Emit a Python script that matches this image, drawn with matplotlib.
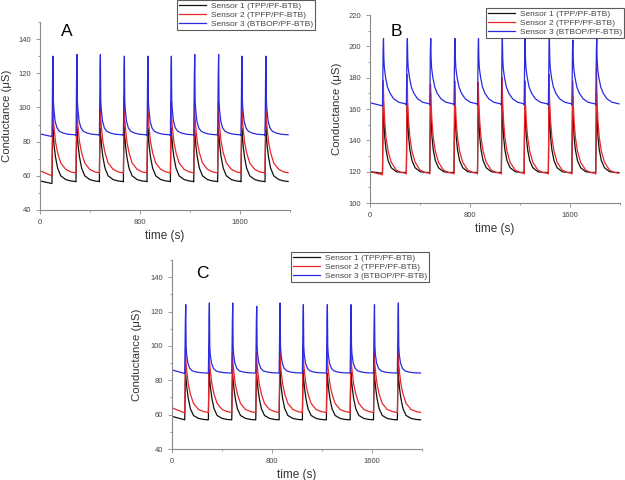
import matplotlib
matplotlib.use("Agg")
import matplotlib.pyplot as plt
from matplotlib.ticker import MultipleLocator

plt.rcParams["font.family"] = ["Liberation Sans", "DejaVu Sans"]

LABELS = ["Sensor 1 (TPP/PF-BTB)", "Sensor 2 (TPFP/PF-BTB)", "Sensor 3 (BTBOP/PF-BTB)"]
COLORS = ["#111111", "#e8262a", "#2a2ae0"]

# pulse onsets (s)
onsets_A = [96, 288, 475, 667, 856, 1043, 1230, 1421, 1608, 1800]
onsets_B = [100, 291, 478, 672, 860, 1051, 1233, 1427, 1615, 1806]
onsets_C = [102, 291, 478, 670, 857, 1043, 1235, 1425, 1612, 1803]

# typical cycle shape: time after onset (s)
fast_off = [0, 2, 5, 8, 11, 15, 25, 40, 60, 90, 130, 185]   # sensor 3 (spike at index 3)
slow_off = [0, 2, 6, 10, 18, 28, 45, 70, 110, 150, 185]     # sensors 1, 2 (peak at index 2)

# panel A
A_s1_start, A_s2_start, A_s3_start = [57, 55.5], [63, 60], [84.5, 83]
A_s1_cycle = [56.5, 70, 89, 84, 77, 71, 64.5, 60, 57.8, 57, 56.7]
A_s2_cycle = [61.5, 75, 102, 94, 87, 80, 73.5, 67.5, 63.8, 62.3, 61.8]
A_s3_cycle = [83.5, 95, 120, 130, 104, 99, 92, 88, 86, 85, 84.3, 84]
A_s1_peak = [90, 89, 88, 89, 88, 88, 87, 88, 88, 89]
A_s2_peak = [102, 103, 101, 106, 103, 103, 102, 103, 105, 102]
A_s3_peak = [130, 131, 131, 130, 130, 130, 131, 131, 130, 130]

# panel B
B_s1_start, B_s2_start, B_s3_start = [120, 119], [120, 118], [164, 162]
B_s1_cycle = [119.5, 135, 168, 155, 142, 134, 127, 122.5, 120, 119.5, 119.5]
B_s2_cycle = [118.5, 140, 178, 165, 152, 142, 133, 126, 121, 119.5, 119]
B_s3_cycle = [162.5, 175, 198, 205, 192, 186, 180, 174, 170, 166.5, 164.3, 163.3]
B_s1_peak = [170, 171, 170, 168, 167, 168, 167, 167, 168, 170]
B_s2_peak = [178, 182, 176, 178, 177, 180, 178, 182, 178, 186]
B_s3_peak = [205, 205, 205, 205, 205, 205, 205, 205, 204, 205]

# panel C
C_s1_start, C_s2_start, C_s3_start = [59, 57], [64, 61], [86, 84]
C_s1_cycle = [57, 68, 86, 81, 75, 69.5, 63.5, 59.5, 57.8, 57.2, 57]
C_s2_cycle = [61, 72, 97, 90, 84, 78, 72, 66.5, 63, 61.8, 61.3]
C_s3_cycle = [84.3, 95, 115, 124, 100, 95, 90, 87, 85.5, 84.8, 84.4, 84.2]
C_s1_peak = [86, 88, 86, 85, 86, 86, 84, 85, 87, 87]
C_s2_peak = [98, 99, 96, 96, 99, 99, 97, 97, 97, 97]
C_s3_peak = [124, 125, 125, 123, 125, 124, 124, 124, 124, 125]


def trace(onsets, start, offsets, cycle, peaks, peak_idx):
    t = [0, onsets[0] - 1]
    v = list(start)
    for t0, pk in zip(onsets, peaks):
        vals = list(cycle)
        vals[peak_idx] = pk
        t += [t0 + o for o in offsets]
        v += vals
    return t, v


def panel(rect, letter, letter_xy, onsets, data, ylim, legend_anchor, ylab_x):
    ax = fig.add_axes(rect)
    handles = []
    for (start, off, cyc, pks, idx), col, lab in zip(data, COLORS, LABELS):
        t, v = trace(onsets, start, off, cyc, pks, idx)
        h, = ax.plot(t, v, color=col, lw=0.9, label=lab)
        handles.append(h)
    ax.set_xlim(0, 2000)
    ax.set_ylim(*ylim)
    for s in ["top", "right"]:
        ax.spines[s].set_visible(False)
    for s in ["left", "bottom"]:
        ax.spines[s].set_color("#8a8a8a")
        ax.spines[s].set_linewidth(0.8)
    ax.xaxis.set_major_locator(MultipleLocator(800))
    ax.xaxis.set_minor_locator(MultipleLocator(400))
    ax.yaxis.set_major_locator(MultipleLocator(20))
    ax.yaxis.set_minor_locator(MultipleLocator(10))
    ax.tick_params(which="both", direction="out", colors="#8a8a8a", labelcolor="#444444",
                   labelsize=5.5, width=0.6)
    ax.tick_params(which="major", length=3)
    ax.tick_params(which="minor", length=1.5)
    ax.set_xlabel("time (s)", fontsize=8.5, color="#333333", labelpad=3)
    ax.set_ylabel("Conductance (μS)", fontsize=8.2, color="#333333", va="center")
    ax.yaxis.set_label_coords(ylab_x, 0.5)
    fig.text(letter_xy[0], letter_xy[1], letter, fontsize=12.5, ha="center", va="center")
    leg = ax.legend(handles=handles, loc="upper right", bbox_to_anchor=legend_anchor,
                    bbox_transform=fig.transFigure, fontsize=6, frameon=True, fancybox=False,
                    borderpad=0.25, labelspacing=0.15, handlelength=3.2, handletextpad=0.6,
                    borderaxespad=0)
    leg.get_frame().set_edgecolor("#333333")
    leg.get_frame().set_linewidth(0.8)
    for txt in leg.get_texts():
        txt.set_color("#444444")
    return ax


fig = plt.figure(figsize=(6.25, 4.8), dpi=100)

panel([40 / 625, 270 / 480, 250 / 625, 188 / 480], "A", (67 / 625, 1 - 32 / 480), onsets_A,
      [(A_s1_start, slow_off, A_s1_cycle, A_s1_peak, 2),
       (A_s2_start, slow_off, A_s2_cycle, A_s2_peak, 2),
       (A_s3_start, fast_off, A_s3_cycle, A_s3_peak, 3)],
      (40, 150), (315 / 625, 1.0), -0.13)

panel([370 / 625, 277 / 480, 250 / 625, 188 / 480], "B", (396 / 625, 1 - 32 / 480), onsets_B,
      [(B_s1_start, slow_off, B_s1_cycle, B_s1_peak, 2),
       (B_s2_start, slow_off, B_s2_cycle, B_s2_peak, 2),
       (B_s3_start, fast_off, B_s3_cycle, B_s3_peak, 3)],
      (100, 220), (624 / 625, 1 - 8 / 480), -0.132)

panel([172 / 625, 31 / 480, 250 / 625, 189 / 480], "C", (202 / 625, 1 - 273 / 480), onsets_C,
      [(C_s1_start, slow_off, C_s1_cycle, C_s1_peak, 2),
       (C_s2_start, slow_off, C_s2_cycle, C_s2_peak, 2),
       (C_s3_start, fast_off, C_s3_cycle, C_s3_peak, 3)],
      (40, 150), (429 / 625, 1 - 252 / 480), -0.14)

fig.savefig("out.png", dpi=100)
